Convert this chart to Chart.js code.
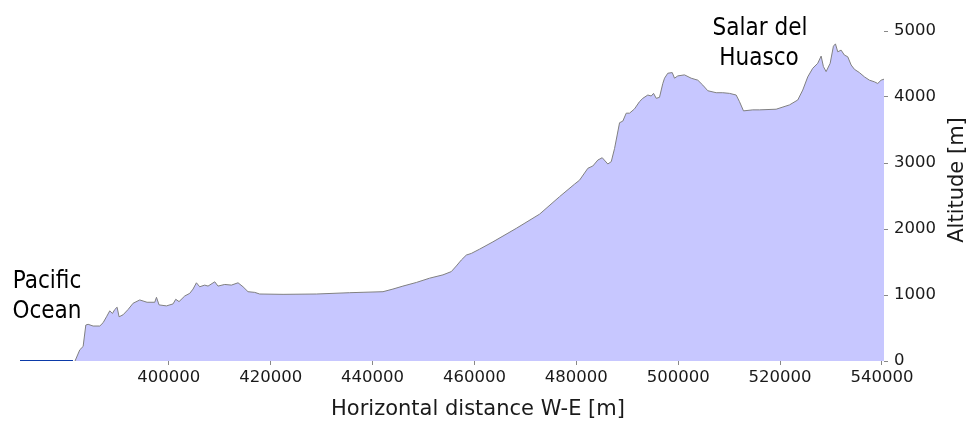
<!DOCTYPE html>
<html>
<head>
<meta charset="utf-8">
<script src="https://cdn.jsdelivr.net/npm/chart.js@4/dist/chart.umd.min.js"></script>
<style>
  html, body { margin: 0; padding: 0; background: #ffffff; }
  canvas { display: block; }
</style>
</head>
<body>
<canvas id="profile" width="973" height="423"></canvas>
<script>
// Sea level stretch off the coast (distance W-E in m, altitude in m)
const oceanDistance = [370800, 381200];
const oceanAltitude = [0, 0];

// Terrain profile from the coast to the Altiplano
const landDistance = [
  381600, 382540, 383190, 383720, 384170, 385150, 386460, 387110, 387780, 388420,
  388950, 389400, 389860, 390250, 391030, 392010, 393000, 394310, 395740, 397250,
  397590, 398100, 399550, 400840, 401370, 402020, 403140, 404120, 404770, 405430,
  406080, 407060, 407710, 409030, 409670, 410990, 412300, 413600, 414580, 415560,
  416870, 417850, 422430, 428980, 435510, 442050, 444010, 445970, 448600, 451210,
  453820, 455470, 456450, 457430, 458410, 459390, 461020, 463630, 468220, 472790,
  476710, 479660, 480640, 482270, 483250, 484230, 485090, 486190, 486860, 487510,
  488490, 489130, 489800, 490450, 491430, 492410, 493060, 494040, 494710, 495160,
  495690, 496330, 496980, 497320, 497960, 498830, 499280, 499930, 501240, 502550,
  503850, 504830, 505810, 507460, 508750, 510070, 511380, 512030, 512820, 514640,
  515950, 519230, 521840, 523470, 524450, 525430, 526410, 527390, 528060, 528510,
  529040, 529830, 530470, 530870, 531320, 531980, 532630, 533280, 533950, 534590,
  535570, 536560, 537540, 538520, 539170, 539830, 540400
];
const landAltitude = [
  0, 170, 220, 545, 556, 530, 530, 580, 670, 760,
  720, 780, 815, 670, 700, 780, 875, 925, 890, 890,
  965, 850, 835, 865, 935, 900, 985, 1025, 1090, 1185,
  1125, 1150, 1135, 1200, 1135, 1160, 1150, 1185, 1125, 1050,
  1040, 1015, 1010, 1015, 1035, 1050, 1090, 1135, 1190, 1255,
  1305, 1355, 1440, 1530, 1605, 1630, 1695, 1805, 2010, 2225,
  2490, 2680, 2740, 2920, 2955, 3045, 3080, 2985, 3020, 3220,
  3610, 3635, 3755, 3755, 3820, 3930, 3980, 4030, 4015, 4055,
  3980, 3995, 4205, 4285, 4360, 4370, 4285, 4320, 4335, 4285,
  4255, 4180, 4095, 4065, 4065, 4055, 4030, 3930, 3790, 3805,
  3805, 3815, 3880, 3955, 4105, 4305, 4435, 4510, 4620, 4460,
  4385, 4510, 4770, 4805, 4685, 4710, 4635, 4610, 4485, 4420,
  4370, 4305, 4255, 4230, 4205, 4255, 4270
];

// Axis ticks
const distanceTicks = [400000, 420000, 440000, 460000, 480000, 500000, 520000, 540000];
const altitudeTicks = [0, 1000, 2000, 3000, 4000, 5000];

const toPoints = (xs, ys) => xs.map((x, i) => ({ x: x, y: ys[i] }));

const tickFont = { family: '"DejaVu Sans", sans-serif', size: 16.5 };

// Place names and the two axis titles
const profileLabels = {
  id: 'profileLabels',
  afterDraw(chart) {
    const ctx = chart.ctx;
    ctx.save();
    ctx.fillStyle = '#000000';
    ctx.font = '24px "DejaVu Sans Condensed", "DejaVu Sans", sans-serif';
    ctx.textAlign = 'center';
    ctx.textBaseline = 'alphabetic';
    ctx.fillText('Pacific', 47, 288);
    ctx.fillText('Ocean', 47, 318);
    ctx.fillText('Salar del', 760, 35);
    ctx.fillText('Huasco', 759, 65);

    ctx.fillStyle = '#1a1a1a';
    ctx.font = '21px "DejaVu Sans", sans-serif';
    ctx.textBaseline = 'middle';
    ctx.fillText('Horizontal distance W-E [m]', 478, 410);

    ctx.translate(958, 180);
    ctx.rotate(-Math.PI / 2);
    ctx.fillText('Altitude [m]', 0, 0);
    ctx.restore();
  }
};

new Chart(document.getElementById('profile'), {
  type: 'line',
  data: {
    datasets: [
      {
        label: 'Ocean',
        data: toPoints(oceanDistance, oceanAltitude),
        borderColor: '#0b3aa8',
        borderWidth: 2,
        fill: false,
        pointRadius: 0
      },
      {
        label: 'Terrain',
        data: toPoints(landDistance, landAltitude),
        borderColor: '#808080',
        borderWidth: 1,
        backgroundColor: 'rgb(199,199,255)',
        fill: 'origin',
        pointRadius: 0
      }
    ]
  },
  options: {
    responsive: false,
    animation: false,
    devicePixelRatio: 1,
    layout: { padding: { left: 20, top: 31, right: 0, bottom: 0 } },
    elements: { line: { tension: 0 }, point: { radius: 0 } },
    plugins: { legend: { display: false }, tooltip: { enabled: false } },
    scales: {
      x: {
        type: 'linear',
        min: 370800,
        max: 540400,
        border: { display: false },
        grid: { drawOnChartArea: false, drawTicks: true, tickLength: 4, color: '#888888' },
        ticks: {
          font: tickFont,
          color: '#1a1a1a',
          padding: 3,
          maxRotation: 0,
          autoSkip: false,
          callback: v => String(v)
        },
        afterBuildTicks: s => { s.ticks = distanceTicks.map(v => ({ value: v })); },
        afterFit: s => { s.height = 62; }
      },
      y: {
        type: 'linear',
        position: 'right',
        min: 0,
        max: 5000,
        border: { display: false },
        grid: { drawOnChartArea: false, drawTicks: true, tickLength: 4, color: '#888888' },
        ticks: {
          font: tickFont,
          color: '#1a1a1a',
          padding: 6,
          callback: v => String(v)
        },
        afterBuildTicks: s => { s.ticks = altitudeTicks.map(v => ({ value: v })); },
        afterFit: s => { s.width = 89; }
      }
    }
  },
  plugins: [profileLabels]
});
</script>
</body>
</html>
